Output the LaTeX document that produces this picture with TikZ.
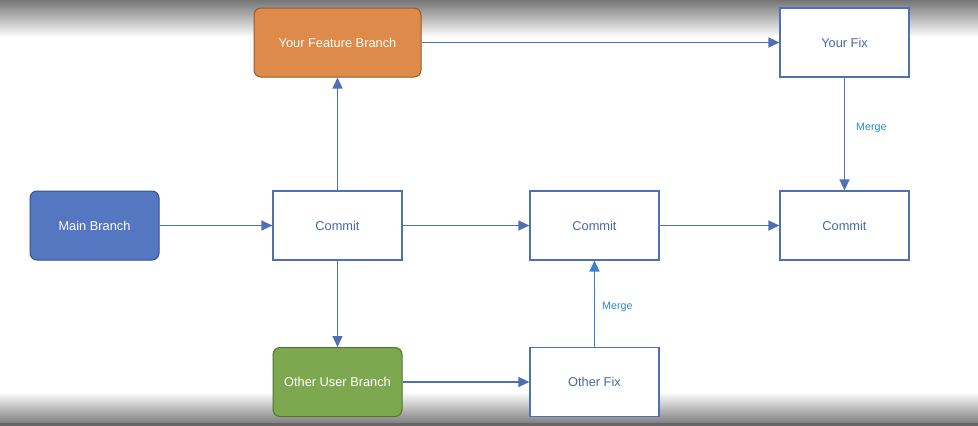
\documentclass[tikz,border=0pt]{standalone}
\usepackage{fontspec}
\setmainfont{Liberation Sans}
\usetikzlibrary{arrows.meta}
\definecolor{edgeblue}{HTML}{4F70B5}
\definecolor{mergeblue}{HTML}{2E8AD2}
\definecolor{boxtext}{HTML}{4A68A8}
\definecolor{orangefill}{HTML}{DE8A4A}
\definecolor{orangeedge}{HTML}{9A5A28}
\definecolor{bluefill}{HTML}{5576C0}
\definecolor{blueedge}{HTML}{34508E}
\definecolor{greenfill}{HTML}{7DA84F}
\definecolor{greenedge}{HTML}{4F7430}
\tikzset{
  base/.style={minimum width=129pt, minimum height=69pt, inner sep=0pt, font=\fontsize{12.8}{14}\selectfont},
  whitebox/.style={base, draw=edgeblue, line width=1.2pt, fill=white, text=boxtext},
  colbox/.style={base, rounded corners=7pt, line width=1pt, text=white},
  conn/.style={draw=edgeblue, line width=1.3pt, -{Triangle[length=11pt,width=10pt]}},
  mconn/.style={conn, draw=mergeblue!70!edgeblue},
  mlabel/.style={font=\fontsize{10.7}{12}\selectfont, text=mergeblue, anchor=west, inner sep=0pt}
}
\begin{document}
\begin{tikzpicture}[x=1pt,y=-1pt]
\useasboundingbox (0,0) rectangle (978,426);
\fill[white] (0,0) rectangle (978,426);
\shade[top color=black!54, bottom color=white] (0,0) rectangle (978,37);
\shade[top color=white, bottom color=black!50] (0,392) rectangle (978,423);
\fill[black!60] (0,423) rectangle (978,426);
% nodes
\node[colbox, fill=orangefill, draw=orangeedge, minimum width=167pt] (feat) at (337.5,42.5) {Your Feature Branch};
\node[whitebox] (fix) at (844.5,42.5) {Your Fix};
\node[colbox, fill=bluefill, draw=blueedge] (main) at (94.5,225.5) {Main Branch};
\node[whitebox] (c1) at (337.5,225.5) {Commit};
\node[whitebox] (c2) at (594.5,225.5) {Commit};
\node[whitebox] (c3) at (844.5,225.5) {Commit};
\node[colbox, fill=greenfill, draw=greenedge] (other) at (337.5,382) {Other User Branch};
\node[whitebox] (ofix) at (594.5,382) {Other Fix};
% connectors
\draw[conn] (main) -- (c1);
\draw[conn] (c1) -- (feat);
\draw[conn] (feat) -- (fix);
\draw[conn] (fix) -- node[mlabel, pos=0.45, xshift=11pt] {Merge} (c3);
\draw[conn] (c1) -- (c2);
\draw[conn] (c2) -- (c3);
\draw[conn] (c1) -- (other);
\draw[conn] (other) -- (ofix);
\draw[mconn] (ofix) -- node[mlabel, pos=0.46, xshift=7pt] {Merge} (c2);
\end{tikzpicture}
\end{document}
